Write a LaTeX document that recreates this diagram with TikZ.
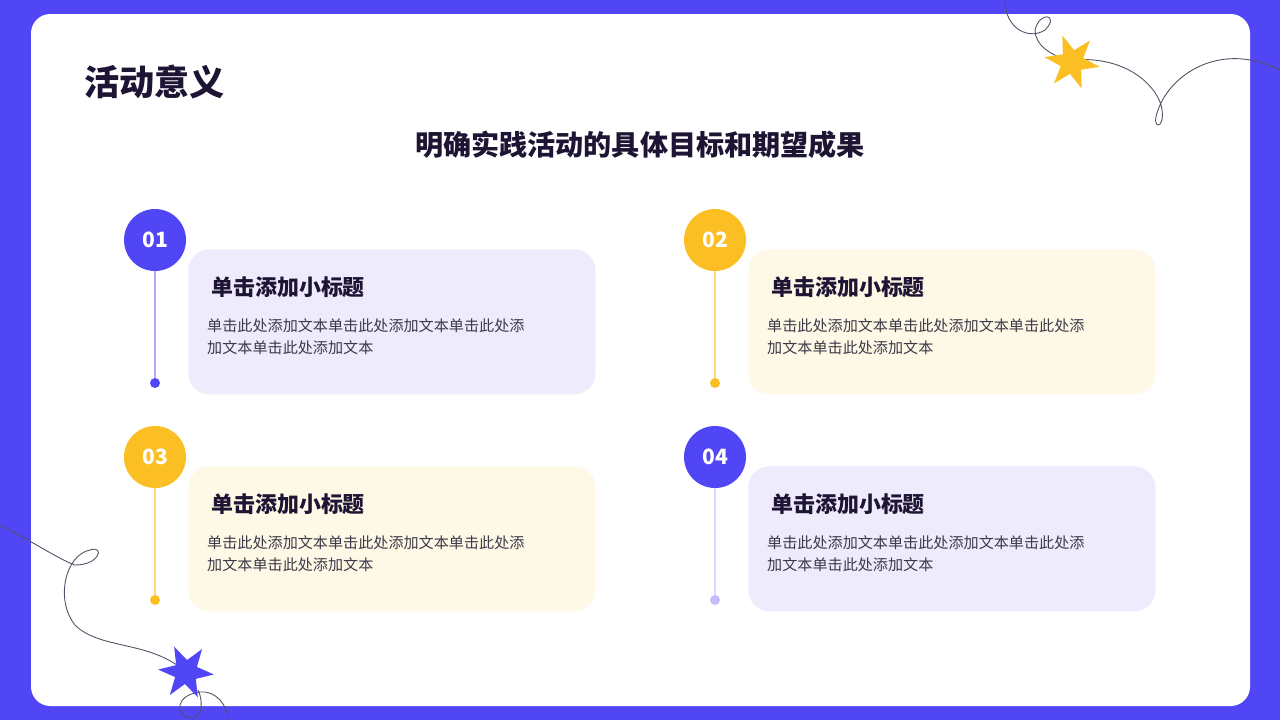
\documentclass[tikz,border=0pt]{standalone}
\usepackage{fontspec}
\setmainfont{Noto Sans CJK SC}
\usepackage{xcolor}
\usetikzlibrary{positioning}
\definecolor{frameblue}{HTML}{5046F5}
\definecolor{sunyellow}{HTML}{FBBF24}
\definecolor{cardlav}{HTML}{EDEBFC}
\definecolor{cardcream}{HTML}{FEF8E6}
\definecolor{inkdark}{HTML}{1E1433}
\definecolor{bodygray}{HTML}{3C3A48}
\tikzset{
  numdot/.style={circle, minimum size=62\px, inner sep=0pt, text=white, font=\bfseries\fontsize{12}{12}\selectfont},
  card/.style={rounded corners=12pt, minimum width=407\px, minimum height=145\px, inner sep=0pt},
  cardhead/.style={anchor=west, text=inkdark, font=\bfseries\fontsize{12.5}{14}\selectfont},
  cardbody/.style={anchor=north west, text=bodygray, align=left, font=\fontsize{8.6}{13}\selectfont},
  swirl/.style={draw=inkdark!75, line width=0.5pt}
}
\newlength{\px}
\setlength{\px}{0.02cm}
\begin{document}
\begin{tikzpicture}[x=0.02cm, y=-0.02cm]
  % frame and white sheet
  \fill[frameblue] (0,0) rectangle (1280,720);
  \fill[white, rounded corners=11pt] (31,14) rectangle (1250,706);
  \useasboundingbox (0,0) rectangle (1280,720);

  % decorative swirls
  \draw[swirl] (1005,0) .. controls (1005,30) and (1030,40) .. (1045,30)
     .. controls (1060,15) and (1040,10) .. (1035,30)
     .. controls (1035,45) and (1050,55) .. (1072,62);
  \draw[swirl] (1072,60) .. controls (1130,55) and (1160,90) .. (1162,110)
     .. controls (1165,130) and (1150,130) .. (1158,110)
     .. controls (1170,75) and (1220,40) .. (1280,70);
  \draw[swirl] (0,525) .. controls (30,540) and (60,560) .. (75,565)
     .. controls (100,565) and (105,545) .. (90,550)
     .. controls (65,555) and (55,600) .. (75,625)
     .. controls (100,650) and (150,640) .. (186,672);
  \draw[swirl] (198,690) .. controls (205,705) and (200,720) .. (190,718)
     .. controls (175,715) and (175,695) .. (200,692)
     .. controls (215,690) and (228,705) .. (228,720);

  % stars
  \fill[sunyellow] plot[samples=13, domain=0:360, variable=\a]
     ({1072+(mod(round(\a/30),2)==0 ? 28 : 12)*cos(\a+10)}, {62+(mod(round(\a/30),2)==0 ? 28 : 12)*sin(\a+10)}) -- cycle;
  \fill[frameblue] plot[samples=13, domain=0:360, variable=\a]
     ({186+(mod(round(\a/30),2)==0 ? 28 : 12)*cos(\a+5)}, {672+(mod(round(\a/30),2)==0 ? 28 : 12)*sin(\a+5)}) -- cycle;

  % titles
  \node[anchor=west, text=inkdark, font=\bfseries\fontsize{20}{22}\selectfont] (title) at (78,82) {活动意义};
  \node[text=inkdark, font=\bfseries\fontsize{16}{18}\selectfont] (subtitle) at (640,145) {明确实践活动的具体目标和期望成果};

  % four items
  \foreach \n/\cx/\cy/\col/\fillc/\linec/\dotc in {
      01/155/240/frameblue/cardlav/frameblue!45/frameblue,
      02/715/240/sunyellow/cardcream/sunyellow!60/sunyellow,
      03/155/457/sunyellow/cardcream/sunyellow!60/sunyellow,
      04/715/457/frameblue/cardlav/frameblue!20/frameblue!35} {
    \node[numdot, fill=\col] (num\n) at (\cx,\cy) {\n};
    \fill[\dotc] (\cx,\cy+143) circle (5) coordinate (end\n);
    \draw[\linec, line width=0.8pt] (num\n.south) -- (\cx,\cy+138);
    \node[card, fill=\fillc, anchor=north west] (card\n) at (\cx+33,\cy+9) {};
    \node[cardhead] (head\n) at (\cx+50,\cy+47) {单击添加小标题};
    \node[cardbody] (body\n) at (\cx+46,\cy+72) {单击此处添加文本单击此处添加文本单击此处添\\加文本单击此处添加文本};
  }
\end{tikzpicture}
\end{document}
